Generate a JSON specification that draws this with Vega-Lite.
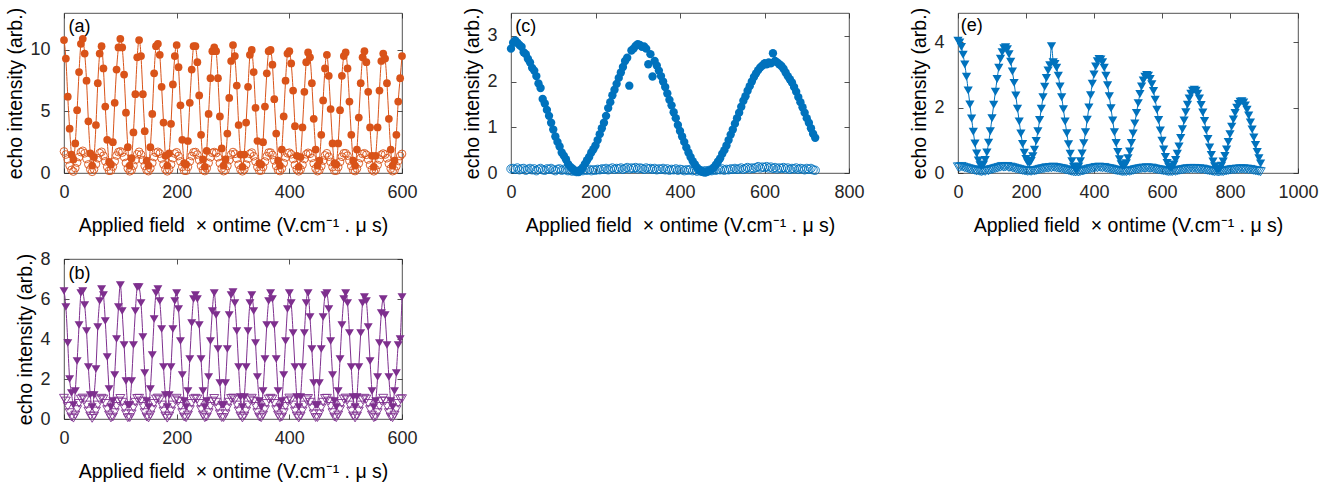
{
"$schema":"https://vega.github.io/schema/vega-lite/v6.json",
"background":"white",
"padding":{"left":5,"top":6,"right":5,"bottom":5},
"config":{"font":"Liberation Sans","view":{"stroke":"#262626","strokeWidth":0.8},
"axis":{"domain":false,"grid":false,"tickColor":"#262626","tickWidth":0.8,"labelColor":"#262626","labelFontSize":18,"titleFontSize":19.5,"titleFontWeight":"normal","titleColor":"#000000","labelFlush":false,"format":"d"},
"axisX":{"labelFlush":false}},
"columns":3,
"spacing":{"row":86,"column":109},
"bounds":"flush",
"datasets":{
"ab":[
{"x":0,"a":10.8,"p":1.75,"b":6.4,"q":1.04},{"x":3.3,"a":9.3,"p":1.5,"b":5.6,"q":0.9},{"x":6.7,"a":6.2,"p":1.1,"b":3.8,"q":0.63},{"x":10,"a":3.6,"p":0.6,"b":2.0,"q":0.32},{"x":13.3,"a":1.5,"p":0.25,"b":1.3,"q":0.1},{"x":16.7,"a":1.1,"p":0.12,"b":0.7,"q":0.04},{"x":20,"a":2.4,"p":0.4,"b":1.4,"q":0.2},{"x":23.3,"a":5.1,"p":0.85,"b":2.9,"q":0.47},{"x":26.7,"a":8.2,"p":1.3,"b":4.7,"q":0.78},{"x":30,"a":10.5,"p":1.7,"b":6.3,"q":1.0},
{"x":33.3,"a":10.9,"p":1.8,"b":6.4,"q":1.05},{"x":36.7,"a":9.7,"p":1.6,"b":5.7,"q":0.96},{"x":40,"a":7.5,"p":1.15,"b":4.4,"q":0.7},{"x":43.3,"a":4.2,"p":0.7,"b":2.6,"q":0.4},{"x":46.7,"a":1.6,"p":0.3,"b":1.2,"q":0.15},{"x":50,"a":0.6,"p":0.1,"b":0.6,"q":0.03},{"x":53.3,"a":1.3,"p":0.3,"b":1.2,"q":0.15},{"x":56.7,"a":3.9,"p":0.72,"b":2.5,"q":0.4},{"x":60,"a":7.3,"p":1.2,"b":4.6,"q":0.7},{"x":63.3,"a":9.7,"p":1.62,"b":5.9,"q":0.96},
{"x":66.7,"a":10.3,"p":1.72,"b":6.5,"q":1.04},{"x":70,"a":8.5,"p":1.4,"b":6.2,"q":1.0},{"x":73.3,"a":5.4,"p":0.95,"b":4.9,"q":0.78},{"x":76.7,"a":2.7,"p":0.5,"b":3.1,"q":0.47},{"x":80,"a":0.9,"p":0.18,"b":1.5,"q":0.2},{"x":83.3,"a":0.7,"p":0.2,"b":0.6,"q":0.05},{"x":86.7,"a":2.5,"p":0.52,"b":0.9,"q":0.1},{"x":90,"a":5.7,"p":0.95,"b":2.2,"q":0.32},{"x":93.3,"a":8.4,"p":1.42,"b":4.0,"q":0.63},{"x":96.7,"a":10.2,"p":1.7,"b":5.6,"q":0.9},
{"x":100,"a":10.9,"p":1.76,"b":6.7,"q":1.03},{"x":103.3,"a":10.2,"p":1.66,"b":5.4,"q":0.84},{"x":106.7,"a":8.0,"p":1.3,"b":3.7,"q":0.55},{"x":110,"a":4.9,"p":0.82,"b":1.9,"q":0.26},{"x":113.3,"a":2.1,"p":0.38,"b":0.7,"q":0.06},{"x":116.7,"a":0.6,"p":0.14,"b":0.7,"q":0.07},{"x":120,"a":1.2,"p":0.24,"b":1.9,"q":0.26},{"x":123.3,"a":3.3,"p":0.6,"b":3.7,"q":0.55},{"x":126.7,"a":6.4,"p":1.07,"b":5.4,"q":0.84},{"x":130,"a":9.4,"p":1.52,"b":6.6,"q":1.03},
{"x":133.3,"a":10.8,"p":1.72,"b":6.6,"q":1.04},{"x":136.7,"a":9.5,"p":1.5,"b":5.8,"q":0.9},{"x":140,"a":6.4,"p":1.05,"b":4.1,"q":0.63},{"x":143.3,"a":3.4,"p":0.58,"b":2.3,"q":0.32},{"x":146.7,"a":1.0,"p":0.24,"b":0.9,"q":0.1},{"x":150,"a":0.6,"p":0.15,"b":0.6,"q":0.05},{"x":153.3,"a":2.1,"p":0.38,"b":1.5,"q":0.2},{"x":156.7,"a":4.8,"p":0.82,"b":3.2,"q":0.47},{"x":160,"a":8.1,"p":1.3,"b":5.0,"q":0.78},{"x":163.3,"a":10.3,"p":1.65,"b":6.3,"q":1.0},
{"x":166.7,"a":10.5,"p":1.72,"b":6.5,"q":1.05},{"x":170,"a":9.6,"p":1.58,"b":5.9,"q":0.96},{"x":173.3,"a":7.0,"p":1.18,"b":4.5,"q":0.7},{"x":176.7,"a":4.1,"p":0.7,"b":2.6,"q":0.4},{"x":180,"a":1.4,"p":0.3,"b":1.2,"q":0.15},{"x":183.3,"a":0.6,"p":0.14,"b":0.6,"q":0.04},{"x":186.7,"a":1.6,"p":0.3,"b":1.2,"q":0.15},{"x":190,"a":4.0,"p":0.7,"b":2.6,"q":0.4},{"x":193.3,"a":7.2,"p":1.2,"b":4.5,"q":0.7},{"x":196.7,"a":9.5,"p":1.58,"b":5.9,"q":0.96},
{"x":200,"a":10.4,"p":1.68,"b":6.3,"q":1.04},{"x":203.3,"a":8.6,"p":1.38,"b":5.5,"q":0.9},{"x":206.7,"a":5.5,"p":0.94,"b":3.9,"q":0.63},{"x":210,"a":2.7,"p":0.5,"b":2.2,"q":0.32},{"x":213.3,"a":0.8,"p":0.2,"b":0.9,"q":0.1},{"x":216.7,"a":0.7,"p":0.18,"b":0.6,"q":0.06},{"x":220,"a":2.6,"p":0.5,"b":1.4,"q":0.2},{"x":223.3,"a":5.7,"p":0.94,"b":3.0,"q":0.47},{"x":226.7,"a":8.4,"p":1.38,"b":4.8,"q":0.78},{"x":230,"a":10.3,"p":1.68,"b":6.0,"q":1.0},
{"x":233.3,"a":10.3,"p":1.7,"b":6.2,"q":1.04},{"x":236.7,"a":9.0,"p":1.5,"b":6.0,"q":1.0},{"x":240,"a":6.3,"p":1.05,"b":4.7,"q":0.78},{"x":243.3,"a":3.1,"p":0.58,"b":3.0,"q":0.47},{"x":246.7,"a":1.1,"p":0.24,"b":1.4,"q":0.2},{"x":250,"a":0.5,"p":0.16,"b":0.6,"q":0.06},{"x":253.3,"a":1.8,"p":0.38,"b":0.9,"q":0.1},{"x":256.7,"a":4.8,"p":0.82,"b":2.1,"q":0.32},{"x":260,"a":7.7,"p":1.28,"b":3.9,"q":0.63},{"x":263.3,"a":9.9,"p":1.64,"b":5.4,"q":0.9},
{"x":266.7,"a":10.2,"p":1.7,"b":6.3,"q":1.03},{"x":270,"a":9.9,"p":1.62,"b":5.2,"q":0.84},{"x":273.3,"a":7.7,"p":1.28,"b":3.5,"q":0.55},{"x":276.7,"a":4.6,"p":0.8,"b":1.8,"q":0.26},{"x":280,"a":2.0,"p":0.37,"b":0.7,"q":0.07},{"x":283.3,"a":0.6,"p":0.15,"b":0.7,"q":0.07},{"x":286.7,"a":1.1,"p":0.23,"b":1.8,"q":0.26},{"x":290,"a":3.2,"p":0.58,"b":3.5,"q":0.55},{"x":293.3,"a":6.1,"p":1.05,"b":5.2,"q":0.84},{"x":296.7,"a":9.1,"p":1.5,"b":6.2,"q":1.03},
{"x":300,"a":10.4,"p":1.7,"b":6.35,"q":1.05},{"x":303.3,"a":9.5,"p":1.56,"b":5.8,"q":0.96},{"x":306.7,"a":7.1,"p":1.17,"b":4.4,"q":0.7},{"x":310,"a":3.9,"p":0.68,"b":2.6,"q":0.4},{"x":313.3,"a":1.5,"p":0.29,"b":1.1,"q":0.15},{"x":316.7,"a":0.5,"p":0.14,"b":0.6,"q":0.05},{"x":320,"a":1.5,"p":0.29,"b":1.1,"q":0.15},{"x":323.3,"a":4.1,"p":0.68,"b":2.6,"q":0.4},{"x":326.7,"a":7.0,"p":1.17,"b":4.4,"q":0.7},{"x":330,"a":9.6,"p":1.56,"b":5.8,"q":0.96},
{"x":333.3,"a":10.0,"p":1.66,"b":6.2,"q":1.04},{"x":336.7,"a":8.2,"p":1.36,"b":5.4,"q":0.9},{"x":340,"a":5.3,"p":0.93,"b":3.8,"q":0.63},{"x":343.3,"a":2.6,"p":0.49,"b":2.1,"q":0.32},{"x":346.7,"a":0.8,"p":0.2,"b":0.9,"q":0.1},{"x":350,"a":0.7,"p":0.2,"b":0.6,"q":0.06},{"x":353.3,"a":2.5,"p":0.49,"b":1.4,"q":0.2},{"x":356.7,"a":5.4,"p":0.93,"b":3.0,"q":0.47},{"x":360,"a":8.1,"p":1.36,"b":4.7,"q":0.78},{"x":363.3,"a":9.9,"p":1.66,"b":5.9,"q":1.0},
{"x":366.7,"a":10.0,"p":1.66,"b":6.3,"q":1.04},{"x":370,"a":8.8,"p":1.46,"b":6.0,"q":1.0},{"x":373.3,"a":6.0,"p":1.03,"b":4.7,"q":0.78},{"x":376.7,"a":3.2,"p":0.57,"b":3.0,"q":0.47},{"x":380,"a":1.0,"p":0.24,"b":1.4,"q":0.2},{"x":383.3,"a":0.6,"p":0.16,"b":0.6,"q":0.06},{"x":386.7,"a":1.9,"p":0.37,"b":0.9,"q":0.1},{"x":390,"a":4.6,"p":0.8,"b":2.2,"q":0.32},{"x":393.3,"a":7.5,"p":1.26,"b":3.9,"q":0.63},{"x":396.7,"a":9.7,"p":1.6,"b":5.5,"q":0.9},
{"x":400,"a":9.9,"p":1.65,"b":6.3,"q":1.05},{"x":403.3,"a":8.9,"p":1.52,"b":5.8,"q":0.96},{"x":406.7,"a":6.7,"p":1.14,"b":4.3,"q":0.7},{"x":410,"a":3.8,"p":0.66,"b":2.6,"q":0.4},{"x":413.3,"a":1.4,"p":0.29,"b":1.1,"q":0.15},{"x":416.7,"a":0.5,"p":0.14,"b":0.6,"q":0.05},{"x":420,"a":1.3,"p":0.29,"b":1.1,"q":0.15},{"x":423.3,"a":3.7,"p":0.66,"b":2.6,"q":0.4},{"x":426.7,"a":6.6,"p":1.14,"b":4.3,"q":0.7},{"x":430,"a":9.0,"p":1.52,"b":5.8,"q":0.96},
{"x":433.3,"a":9.8,"p":1.64,"b":6.3,"q":1.03},{"x":436.7,"a":9.4,"p":1.56,"b":5.1,"q":0.84},{"x":440,"a":7.3,"p":1.23,"b":3.5,"q":0.55},{"x":443.3,"a":4.4,"p":0.78,"b":1.8,"q":0.26},{"x":446.7,"a":1.9,"p":0.36,"b":0.7,"q":0.07},{"x":450,"a":0.6,"p":0.15,"b":0.7,"q":0.07},{"x":453.3,"a":1.0,"p":0.23,"b":1.8,"q":0.26},{"x":456.7,"a":3.1,"p":0.56,"b":3.5,"q":0.55},{"x":460,"a":5.9,"p":1.01,"b":5.1,"q":0.84},{"x":463.3,"a":8.5,"p":1.43,"b":6.2,"q":1.03},
{"x":466.7,"a":9.6,"p":1.6,"b":6.3,"q":1.04},{"x":470,"a":7.9,"p":1.32,"b":5.5,"q":0.9},{"x":473.3,"a":5.2,"p":0.9,"b":3.9,"q":0.63},{"x":476.7,"a":2.4,"p":0.48,"b":2.2,"q":0.32},{"x":480,"a":0.8,"p":0.19,"b":0.9,"q":0.1},{"x":483.3,"a":0.7,"p":0.19,"b":0.6,"q":0.06},{"x":486.7,"a":2.4,"p":0.48,"b":1.4,"q":0.2},{"x":490,"a":5.1,"p":0.9,"b":3.0,"q":0.47},{"x":493.3,"a":7.9,"p":1.32,"b":4.7,"q":0.78},{"x":496.7,"a":9.5,"p":1.6,"b":6.0,"q":1.0},
{"x":500,"a":9.8,"p":1.6,"b":6.3,"q":1.05},{"x":503.3,"a":8.5,"p":1.41,"b":5.8,"q":0.96},{"x":506.7,"a":5.8,"p":1.0,"b":4.3,"q":0.7},{"x":510,"a":3.1,"p":0.56,"b":2.6,"q":0.4},{"x":513.3,"a":1.0,"p":0.23,"b":1.1,"q":0.15},{"x":516.7,"a":0.6,"p":0.16,"b":0.6,"q":0.05},{"x":520,"a":1.9,"p":0.36,"b":1.1,"q":0.15},{"x":523.3,"a":4.5,"p":0.78,"b":2.6,"q":0.4},{"x":526.7,"a":7.3,"p":1.22,"b":4.3,"q":0.7},{"x":530,"a":9.4,"p":1.55,"b":5.8,"q":0.96},
{"x":533.3,"a":9.9,"p":1.6,"b":6.1,"q":1.04},{"x":536.7,"a":9.0,"p":1.48,"b":5.9,"q":1.0},{"x":540,"a":6.6,"p":1.1,"b":4.6,"q":0.78},{"x":543.3,"a":3.7,"p":0.65,"b":2.9,"q":0.47},{"x":546.7,"a":1.4,"p":0.28,"b":1.4,"q":0.2},{"x":550,"a":0.5,"p":0.14,"b":0.6,"q":0.06},{"x":553.3,"a":1.4,"p":0.28,"b":0.9,"q":0.1},{"x":556.7,"a":3.7,"p":0.65,"b":2.1,"q":0.32},{"x":560,"a":6.7,"p":1.1,"b":3.8,"q":0.63},{"x":563.3,"a":9.1,"p":1.48,"b":5.3,"q":0.9},
{"x":566.7,"a":9.7,"p":1.58,"b":6.0,"q":1.04},{"x":570,"a":9.3,"p":1.5,"b":5.2,"q":0.9},{"x":573.3,"a":7.3,"p":1.2,"b":3.7,"q":0.63},{"x":576.7,"a":4.4,"p":0.76,"b":2.1,"q":0.32},{"x":580,"a":1.9,"p":0.35,"b":0.9,"q":0.1},{"x":583.3,"a":0.6,"p":0.15,"b":0.6,"q":0.06},{"x":586.7,"a":1.0,"p":0.22,"b":1.4,"q":0.2},{"x":590,"a":3.1,"p":0.55,"b":2.3,"q":0.47},{"x":593.3,"a":5.8,"p":0.98,"b":3.7,"q":0.78},{"x":596.7,"a":7.7,"p":1.38,"b":4.0,"q":1.0},
{"x":600,"a":9.5,"p":1.55,"b":6.1,"q":1.02}
],
"c":[
{"x":0,"f":2.72,"o":0.09},{"x":5,"f":2.85,"o":0.1},{"x":10,"f":2.9,"o":0.08},{"x":15,"f":2.85,"o":0.11},{"x":20,"f":2.8,"o":0.07},{"x":25,"f":2.76,"o":0.09},{"x":30,"f":2.64,"o":0.1},{"x":35,"f":2.6,"o":0.06},{"x":40,"f":2.5,"o":0.08},{"x":45,"f":2.42,"o":0.1},
{"x":50,"f":2.3,"o":0.07},{"x":55,"f":2.24,"o":0.09},{"x":60,"f":2.12,"o":0.05},{"x":65,"f":1.96,"o":0.08},{"x":70,"f":1.86,"o":0.1},{"x":75,"f":1.62,"o":0.07},{"x":80,"f":1.52,"o":0.06},{"x":85,"f":1.38,"o":0.09},{"x":90,"f":1.25,"o":0.08},{"x":95,"f":1.1,"o":0.1},
{"x":100,"f":0.95,"o":0.07},{"x":105,"f":0.8,"o":0.05},{"x":110,"f":0.68,"o":0.08},{"x":115,"f":0.58,"o":0.09},{"x":120,"f":0.45,"o":0.06},{"x":125,"f":0.38,"o":0.08},{"x":130,"f":0.3,"o":0.07},{"x":135,"f":0.2,"o":0.05},{"x":140,"f":0.14,"o":0.06},{"x":145,"f":0.1,"o":0.04},
{"x":150,"f":0.05,"o":0.05},{"x":155,"f":0.03,"o":0.03},{"x":160,"f":0.02,"o":0.04},{"x":165,"f":0.06,"o":0.06},{"x":170,"f":0.12,"o":0.05},{"x":175,"f":0.2,"o":0.07},{"x":180,"f":0.28,"o":0.06},{"x":185,"f":0.35,"o":0.08},{"x":190,"f":0.45,"o":0.05},{"x":195,"f":0.52,"o":0.07},
{"x":200,"f":0.6,"o":0.06},{"x":205,"f":0.72,"o":0.08},{"x":210,"f":0.85,"o":0.07},{"x":215,"f":0.98,"o":0.09},{"x":220,"f":1.1,"o":0.08},{"x":225,"f":1.25,"o":0.1},{"x":230,"f":1.42,"o":0.07},{"x":235,"f":1.55,"o":0.09},{"x":240,"f":1.7,"o":0.11},{"x":245,"f":1.82,"o":0.08},
{"x":250,"f":1.95,"o":0.1},{"x":255,"f":2.08,"o":0.09},{"x":260,"f":2.2,"o":0.11},{"x":265,"f":2.32,"o":0.08},{"x":270,"f":2.45,"o":0.1},{"x":275,"f":2.52,"o":0.12},{"x":280,"f":1.91,"o":0.09},{"x":285,"f":2.68,"o":0.11},{"x":290,"f":2.72,"o":0.1},{"x":295,"f":2.78,"o":0.12},
{"x":300,"f":2.82,"o":0.09},{"x":305,"f":2.8,"o":0.11},{"x":310,"f":2.76,"o":0.1},{"x":315,"f":2.77,"o":0.08},{"x":320,"f":2.72,"o":0.11},{"x":325,"f":2.38,"o":0.09},{"x":330,"f":2.6,"o":0.1},{"x":335,"f":2.11,"o":0.08},{"x":340,"f":2.45,"o":0.1},{"x":345,"f":2.35,"o":0.07},
{"x":350,"f":2.24,"o":0.09},{"x":355,"f":2.12,"o":0.08},{"x":360,"f":2.0,"o":0.1},{"x":365,"f":1.88,"o":0.07},{"x":370,"f":1.74,"o":0.09},{"x":375,"f":1.6,"o":0.06},{"x":380,"f":1.48,"o":0.08},{"x":385,"f":1.33,"o":0.07},{"x":390,"f":1.2,"o":0.09},{"x":395,"f":1.05,"o":0.06},
{"x":400,"f":0.92,"o":0.08},{"x":405,"f":0.8,"o":0.07},{"x":410,"f":0.68,"o":0.05},{"x":415,"f":0.56,"o":0.07},{"x":420,"f":0.45,"o":0.06},{"x":425,"f":0.35,"o":0.08},{"x":430,"f":0.26,"o":0.05},{"x":435,"f":0.19,"o":0.06},{"x":440,"f":0.12,"o":0.04},{"x":445,"f":0.07,"o":0.06},
{"x":450,"f":0.03,"o":0.05},{"x":455,"f":0.02,"o":0.03},{"x":460,"f":0.01,"o":0.05},{"x":465,"f":0.03,"o":0.04},{"x":470,"f":0.05,"o":0.06},{"x":475,"f":0.08,"o":0.05},{"x":480,"f":0.12,"o":0.07},{"x":485,"f":0.18,"o":0.06},{"x":490,"f":0.25,"o":0.08},{"x":495,"f":0.32,"o":0.07},
{"x":500,"f":0.42,"o":0.09},{"x":505,"f":0.5,"o":0.06},{"x":510,"f":0.6,"o":0.08},{"x":515,"f":0.72,"o":0.07},{"x":520,"f":0.84,"o":0.09},{"x":525,"f":0.95,"o":0.08},{"x":530,"f":1.08,"o":0.1},{"x":535,"f":1.2,"o":0.08},{"x":540,"f":1.32,"o":0.09},{"x":545,"f":1.45,"o":0.11},
{"x":550,"f":1.58,"o":0.08},{"x":555,"f":1.68,"o":0.1},{"x":560,"f":1.8,"o":0.12},{"x":565,"f":1.9,"o":0.09},{"x":570,"f":2.0,"o":0.11},{"x":575,"f":2.1,"o":0.1},{"x":580,"f":2.18,"o":0.12},{"x":585,"f":2.25,"o":0.14},{"x":590,"f":2.31,"o":0.11},{"x":595,"f":2.35,"o":0.13},
{"x":600,"f":2.4,"o":0.12},{"x":605,"f":2.38,"o":0.14},{"x":610,"f":2.42,"o":0.11},{"x":615,"f":2.4,"o":0.13},{"x":620,"f":2.62,"o":0.1},{"x":625,"f":2.45,"o":0.12},{"x":630,"f":2.42,"o":0.09},{"x":635,"f":2.38,"o":0.11},{"x":640,"f":2.34,"o":0.1},{"x":645,"f":2.28,"o":0.12},
{"x":650,"f":2.2,"o":0.09},{"x":655,"f":2.12,"o":0.11},{"x":660,"f":2.05,"o":0.08},{"x":665,"f":1.98,"o":0.1},{"x":670,"f":1.88,"o":0.09},{"x":675,"f":1.78,"o":0.11},{"x":680,"f":1.66,"o":0.08},{"x":685,"f":1.55,"o":0.1},{"x":690,"f":1.44,"o":0.09},{"x":695,"f":1.32,"o":0.07},
{"x":700,"f":1.2,"o":0.1},{"x":705,"f":1.1,"o":0.08},{"x":710,"f":0.98,"o":0.1},{"x":715,"f":0.86,"o":0.07},{"x":720,"f":0.77,"o":0.06}
],
"e":[
{"x":0,"f":4.05,"o":0.19},{"x":5,"f":4.0,"o":0.17},{"x":10,"f":3.86,"o":0.2},{"x":15,"f":3.62,"o":0.18},{"x":20,"f":3.32,"o":0.16},{"x":25,"f":2.95,"o":0.15},{"x":30,"f":2.53,"o":0.13},{"x":35,"f":2.1,"o":0.12},{"x":40,"f":1.67,"o":0.1},{"x":45,"f":1.26,"o":0.1},
{"x":50,"f":0.9,"o":0.08},{"x":55,"f":0.6,"o":0.06},{"x":60,"f":0.38,"o":0.07},{"x":65,"f":0.24,"o":0.05},{"x":70,"f":0.2,"o":0.04},{"x":75,"f":0.26,"o":0.06},{"x":80,"f":0.4,"o":0.05},{"x":85,"f":0.63,"o":0.08},{"x":90,"f":0.93,"o":0.07},{"x":95,"f":1.28,"o":0.1},
{"x":100,"f":1.68,"o":0.11},{"x":105,"f":2.09,"o":0.12},{"x":110,"f":2.49,"o":0.14},{"x":115,"f":2.88,"o":0.15},{"x":120,"f":3.22,"o":0.17},{"x":125,"f":3.5,"o":0.18},{"x":130,"f":3.7,"o":0.2},{"x":135,"f":3.82,"o":0.18},{"x":140,"f":3.85,"o":0.19},{"x":145,"f":3.79,"o":0.2},
{"x":150,"f":3.64,"o":0.17},{"x":155,"f":3.41,"o":0.18},{"x":160,"f":3.11,"o":0.16},{"x":165,"f":2.76,"o":0.15},{"x":170,"f":2.37,"o":0.13},{"x":175,"f":1.97,"o":0.12},{"x":180,"f":1.58,"o":0.11},{"x":185,"f":1.21,"o":0.09},{"x":190,"f":0.89,"o":0.08},{"x":195,"f":0.62,"o":0.07},
{"x":200,"f":0.43,"o":0.06},{"x":205,"f":0.32,"o":0.05},{"x":210,"f":0.3,"o":0.06},{"x":215,"f":0.37,"o":0.05},{"x":220,"f":0.51,"o":0.07},{"x":225,"f":0.71,"o":0.06},{"x":230,"f":0.98,"o":0.08},{"x":235,"f":1.28,"o":0.09},{"x":240,"f":1.62,"o":0.11},{"x":245,"f":1.97,"o":0.12},
{"x":250,"f":2.32,"o":0.13},{"x":255,"f":2.64,"o":0.14},{"x":260,"f":2.91,"o":0.16},{"x":265,"f":3.14,"o":0.15},{"x":270,"f":3.3,"o":0.17},{"x":275,"f":3.88,"o":0.16},{"x":280,"f":3.39,"o":0.18},{"x":285,"f":3.34,"o":0.17},{"x":290,"f":3.22,"o":0.16},{"x":295,"f":2.98,"o":0.15},
{"x":300,"f":2.65,"o":0.14},{"x":305,"f":2.32,"o":0.13},{"x":310,"f":1.95,"o":0.12},{"x":315,"f":1.58,"o":0.1},{"x":320,"f":1.22,"o":0.09},{"x":325,"f":0.88,"o":0.08},{"x":330,"f":0.59,"o":0.06},{"x":335,"f":0.36,"o":0.05},{"x":340,"f":0.19,"o":0.04},{"x":345,"f":0.11,"o":0.03},
{"x":350,"f":0.11,"o":0.04},{"x":355,"f":0.2,"o":0.03},{"x":360,"f":0.36,"o":0.05},{"x":365,"f":0.6,"o":0.06},{"x":370,"f":0.91,"o":0.07},{"x":375,"f":1.25,"o":0.09},{"x":380,"f":1.63,"o":0.1},{"x":385,"f":2.01,"o":0.12},{"x":390,"f":2.38,"o":0.13},{"x":395,"f":2.73,"o":0.14},
{"x":400,"f":3.02,"o":0.15},{"x":405,"f":3.26,"o":0.17},{"x":410,"f":3.42,"o":0.16},{"x":415,"f":3.49,"o":0.18},{"x":420,"f":3.48,"o":0.17},{"x":425,"f":3.39,"o":0.16},{"x":430,"f":3.22,"o":0.17},{"x":435,"f":2.98,"o":0.15},{"x":440,"f":2.69,"o":0.14},{"x":445,"f":2.35,"o":0.13},
{"x":450,"f":1.98,"o":0.12},{"x":455,"f":1.61,"o":0.11},{"x":460,"f":1.25,"o":0.09},{"x":465,"f":0.92,"o":0.08},{"x":470,"f":0.64,"o":0.07},{"x":475,"f":0.42,"o":0.06},{"x":480,"f":0.27,"o":0.05},{"x":485,"f":0.2,"o":0.04},{"x":490,"f":0.22,"o":0.05},{"x":495,"f":0.3,"o":0.04},
{"x":500,"f":0.45,"o":0.06},{"x":505,"f":0.66,"o":0.05},{"x":510,"f":0.92,"o":0.07},{"x":515,"f":1.21,"o":0.08},{"x":520,"f":1.52,"o":0.1},{"x":525,"f":1.84,"o":0.11},{"x":530,"f":2.14,"o":0.12},{"x":535,"f":2.42,"o":0.13},{"x":540,"f":2.65,"o":0.14},{"x":545,"f":2.83,"o":0.15},
{"x":550,"f":2.95,"o":0.14},{"x":555,"f":3.0,"o":0.16},{"x":560,"f":2.98,"o":0.15},{"x":565,"f":2.88,"o":0.14},{"x":570,"f":2.72,"o":0.15},{"x":575,"f":2.51,"o":0.13},{"x":580,"f":2.24,"o":0.12},{"x":585,"f":1.94,"o":0.11},{"x":590,"f":1.62,"o":0.1},{"x":595,"f":1.3,"o":0.09},
{"x":600,"f":0.99,"o":0.08},{"x":605,"f":0.72,"o":0.07},{"x":610,"f":0.49,"o":0.06},{"x":615,"f":0.31,"o":0.05},{"x":620,"f":0.19,"o":0.04},{"x":625,"f":0.15,"o":0.05},{"x":630,"f":0.17,"o":0.04},{"x":635,"f":0.26,"o":0.06},{"x":640,"f":0.4,"o":0.05},{"x":645,"f":0.59,"o":0.07},
{"x":650,"f":0.81,"o":0.08},{"x":655,"f":1.07,"o":0.09},{"x":660,"f":1.34,"o":0.1},{"x":665,"f":1.61,"o":0.11},{"x":670,"f":1.86,"o":0.12},{"x":675,"f":2.09,"o":0.13},{"x":680,"f":2.28,"o":0.12},{"x":685,"f":2.43,"o":0.14},{"x":690,"f":2.52,"o":0.13},{"x":695,"f":2.55,"o":0.14},
{"x":700,"f":2.52,"o":0.13},{"x":705,"f":2.43,"o":0.12},{"x":710,"f":2.28,"o":0.13},{"x":715,"f":2.08,"o":0.11},{"x":720,"f":1.85,"o":0.12},{"x":725,"f":1.59,"o":0.1},{"x":730,"f":1.31,"o":0.09},{"x":735,"f":1.04,"o":0.08},{"x":740,"f":0.78,"o":0.07},{"x":745,"f":0.55,"o":0.06},
{"x":750,"f":0.35,"o":0.05},{"x":755,"f":0.21,"o":0.04},{"x":760,"f":0.13,"o":0.05},{"x":765,"f":0.1,"o":0.03},{"x":770,"f":0.13,"o":0.04},{"x":775,"f":0.22,"o":0.05},{"x":780,"f":0.35,"o":0.04},{"x":785,"f":0.52,"o":0.06},{"x":790,"f":0.72,"o":0.07},{"x":795,"f":0.95,"o":0.08},
{"x":800,"f":1.19,"o":0.09},{"x":805,"f":1.42,"o":0.1},{"x":810,"f":1.64,"o":0.11},{"x":815,"f":1.84,"o":0.1},{"x":820,"f":2.0,"o":0.12},{"x":825,"f":2.11,"o":0.11},{"x":830,"f":2.18,"o":0.13},{"x":835,"f":2.2,"o":0.12},{"x":840,"f":2.16,"o":0.13},{"x":845,"f":2.07,"o":0.11},
{"x":850,"f":1.94,"o":0.12},{"x":855,"f":1.76,"o":0.1},{"x":860,"f":1.55,"o":0.11},{"x":865,"f":1.33,"o":0.09},{"x":870,"f":1.09,"o":0.08},{"x":875,"f":0.86,"o":0.07},{"x":880,"f":0.64,"o":0.06},{"x":885,"f":0.45,"o":0.05},{"x":890,"f":0.29,"o":0.04}
]
},
"concat":[
{"width":338,"height":160,"data":{"name":"ab"},
"layer":[
{"mark":{"type":"line","color":"#D95319","strokeWidth":1,"interpolate":"natural"},
"encoding":{"x":{"field":"x","type":"quantitative","scale":{"domain":[0,600],"nice":false,"zero":false},"axis":{"values":[0,200,400,600],"ticks":false,"labelPadding":10,"title":"Applied field \u00a0× ontime (V.cm⁻¹ . μ s)","titlePadding":15}},
"y":{"field":"a","type":"quantitative","scale":{"domain":[0,13],"nice":false},"axis":{"values":[0,5,10],"ticks":false,"labelPadding":14,"title":"echo intensity (arb.)","titlePadding":4}}}},
{"mark":{"type":"point","shape":"circle","filled":true,"color":"#D95319","size":60,"opacity":1},
"encoding":{"x":{"field":"x","type":"quantitative","scale":{"domain":[0,600],"nice":false,"zero":false},"axis":null},"y":{"field":"a","type":"quantitative","scale":{"domain":[0,13],"nice":false},"axis":null}}},
{"mark":{"type":"point","shape":"circle","filled":false,"color":"#D95319","size":60,"strokeWidth":0.9,"opacity":1},
"encoding":{"x":{"field":"x","type":"quantitative","scale":{"domain":[0,600],"nice":false,"zero":false},"axis":{"orient":"top","values":[0,200,400,600],"labels":false,"tickSize":5,"offset":-5,"title":null}},
"y":{"field":"p","type":"quantitative","scale":{"domain":[0,13],"nice":false},"axis":{"orient":"right","values":[0,5,10],"labels":false,"tickSize":5,"offset":-5,"title":null}}}},
{"data":{"values":[{"t":"(a)"}]},"mark":{"type":"text","align":"left","baseline":"middle","fontSize":18,"color":"#000000"},
"encoding":{"text":{"field":"t"},"x":{"datum":8,"type":"quantitative","axis":{"orient":"bottom","values":[0,200,400,600],"labels":false,"tickSize":5,"offset":-5,"title":null}},
"y":{"datum":11.9,"type":"quantitative","axis":{"orient":"left","values":[0,5,10],"labels":false,"tickSize":5,"offset":-5,"title":null}}}}
],
"resolve":{"axis":{"x":"independent","y":"independent"}}},
{"width":338,"height":160,"data":{"name":"c"},
"layer":[
{"mark":{"type":"point","shape":"circle","filled":true,"color":"#0072BD","size":70,"opacity":1},
"encoding":{"x":{"field":"x","type":"quantitative","scale":{"domain":[0,800],"nice":false,"zero":false},"axis":{"values":[0,200,400,600,800],"ticks":false,"labelPadding":10,"title":"Applied field \u00a0× ontime (V.cm⁻¹ . μ s)","titlePadding":15}},
"y":{"field":"f","type":"quantitative","scale":{"domain":[0,3.5],"nice":false},"axis":{"values":[0,1,2,3],"ticks":false,"labelPadding":14,"title":"echo intensity (arb.)","titlePadding":4}}}},
{"mark":{"type":"point","shape":"circle","filled":false,"color":"#0072BD","size":70,"strokeWidth":0.9,"opacity":1},
"encoding":{"x":{"field":"x","type":"quantitative","scale":{"domain":[0,800],"nice":false,"zero":false},"axis":{"orient":"top","values":[0,200,400,600,800],"labels":false,"tickSize":5,"offset":-5,"title":null}},
"y":{"field":"o","type":"quantitative","scale":{"domain":[0,3.5],"nice":false},"axis":{"orient":"right","values":[0,1,2,3],"labels":false,"tickSize":5,"offset":-5,"title":null}}}},
{"data":{"values":[{"t":"(c)"}]},"mark":{"type":"text","align":"left","baseline":"middle","fontSize":18,"color":"#000000"},
"encoding":{"text":{"field":"t"},"x":{"datum":10,"type":"quantitative","axis":{"orient":"bottom","values":[0,200,400,600,800],"labels":false,"tickSize":5,"offset":-5,"title":null}},
"y":{"datum":3.2,"type":"quantitative","axis":{"orient":"left","values":[0,1,2,3],"labels":false,"tickSize":5,"offset":-5,"title":null}}}}
],
"resolve":{"axis":{"x":"independent","y":"independent"}}},
{"width":340,"height":160,"data":{"name":"e"},
"layer":[
{"mark":{"type":"line","color":"#0072BD","strokeWidth":1,"interpolate":"natural"},
"encoding":{"x":{"field":"x","type":"quantitative","scale":{"domain":[0,1000],"nice":false,"zero":false},"axis":{"values":[0,200,400,600,800,1000],"ticks":false,"labelPadding":10,"title":"Applied field \u00a0× ontime (V.cm⁻¹ . μ s)","titlePadding":15}},
"y":{"field":"f","type":"quantitative","scale":{"domain":[0,4.9],"nice":false},"axis":{"values":[0,2,4],"ticks":false,"labelPadding":14,"title":"echo intensity (arb.)","titlePadding":4}}}},
{"mark":{"type":"point","shape":"triangle-down","filled":true,"color":"#0072BD","size":85,"opacity":1},
"encoding":{"x":{"field":"x","type":"quantitative","scale":{"domain":[0,1000],"nice":false,"zero":false},"axis":null},"y":{"field":"f","type":"quantitative","scale":{"domain":[0,4.9],"nice":false},"axis":null}}},
{"mark":{"type":"point","shape":"triangle-down","filled":false,"color":"#0072BD","size":85,"strokeWidth":0.9,"opacity":1},
"encoding":{"x":{"field":"x","type":"quantitative","scale":{"domain":[0,1000],"nice":false,"zero":false},"axis":{"orient":"top","values":[0,200,400,600,800,1000],"labels":false,"tickSize":5,"offset":-5,"title":null}},
"y":{"field":"o","type":"quantitative","scale":{"domain":[0,4.9],"nice":false},"axis":{"orient":"right","values":[0,2,4],"labels":false,"tickSize":5,"offset":-5,"title":null}}}},
{"data":{"values":[{"t":"(e)"}]},"mark":{"type":"text","align":"left","baseline":"middle","fontSize":18,"color":"#000000"},
"encoding":{"text":{"field":"t"},"x":{"datum":8,"type":"quantitative","axis":{"orient":"bottom","values":[0,200,400,600,800,1000],"labels":false,"tickSize":5,"offset":-5,"title":null}},
"y":{"datum":4.5,"type":"quantitative","axis":{"orient":"left","values":[0,2,4],"labels":false,"tickSize":5,"offset":-5,"title":null}}}}
],
"resolve":{"axis":{"x":"independent","y":"independent"}}},
{"width":338,"height":160,"data":{"name":"ab"},
"layer":[
{"mark":{"type":"line","color":"#7E2F8E","strokeWidth":1,"interpolate":"natural"},
"encoding":{"x":{"field":"x","type":"quantitative","scale":{"domain":[0,600],"nice":false,"zero":false},"axis":{"values":[0,200,400,600],"ticks":false,"labelPadding":10,"title":"Applied field \u00a0× ontime (V.cm⁻¹ . μ s)","titlePadding":15}},
"y":{"field":"b","type":"quantitative","scale":{"domain":[0,8],"nice":false},"axis":{"values":[0,2,4,6,8],"ticks":false,"labelPadding":14,"title":"echo intensity (arb.)","titlePadding":4}}}},
{"mark":{"type":"point","shape":"triangle-down","filled":true,"color":"#7E2F8E","size":80,"opacity":1},
"encoding":{"x":{"field":"x","type":"quantitative","scale":{"domain":[0,600],"nice":false,"zero":false},"axis":null},"y":{"field":"b","type":"quantitative","scale":{"domain":[0,8],"nice":false},"axis":null}}},
{"mark":{"type":"point","shape":"triangle-down","filled":false,"color":"#7E2F8E","size":80,"strokeWidth":0.9,"opacity":1},
"encoding":{"x":{"field":"x","type":"quantitative","scale":{"domain":[0,600],"nice":false,"zero":false},"axis":{"orient":"top","values":[0,200,400,600],"labels":false,"tickSize":5,"offset":-5,"title":null}},
"y":{"field":"q","type":"quantitative","scale":{"domain":[0,8],"nice":false},"axis":{"orient":"right","values":[0,2,4,6,8],"labels":false,"tickSize":5,"offset":-5,"title":null}}}},
{"data":{"values":[{"t":"(b)"}]},"mark":{"type":"text","align":"left","baseline":"middle","fontSize":18,"color":"#000000"},
"encoding":{"text":{"field":"t"},"x":{"datum":8,"type":"quantitative","axis":{"orient":"bottom","values":[0,200,400,600],"labels":false,"tickSize":5,"offset":-5,"title":null}},
"y":{"datum":7.25,"type":"quantitative","axis":{"orient":"left","values":[0,2,4,6,8],"labels":false,"tickSize":5,"offset":-5,"title":null}}}}
],
"resolve":{"axis":{"x":"independent","y":"independent"}}}
]
}
